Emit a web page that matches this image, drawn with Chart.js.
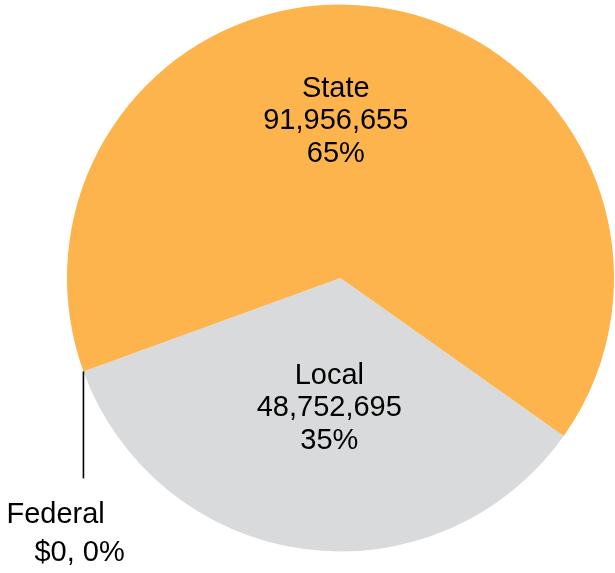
<!DOCTYPE html>
<html>
<head>
<meta charset="utf-8">
<script src="https://cdn.jsdelivr.net/npm/chart.js@4"></script>
<style>
  html, body { margin: 0; padding: 0; background: #fff; }
  canvas { display: block; }
</style>
</head>
<body>
<canvas id="fundingPie" width="615" height="573"></canvas>
<script>
// Funding sources, in drawing order (clockwise)
const categories = ['Local', 'Federal', 'State'];
const amounts = [48752695, 0, 91956655];
const percentLabels = ['35%', '0%', '65%'];
const sliceColors = ['#D9DADB', '#D9DADB', '#FDB44D'];

const FONT = '29px "Liberation Sans", Arial, sans-serif';

function fmt(n) {
  return n.toLocaleString('en-US');
}

// Draws the stacked labels inside the big slices and the leader-line label for Federal
const sliceLabels = {
  id: 'sliceLabels',
  afterDatasetsDraw(chart) {
    const ctx = chart.ctx;
    const arcs = chart.getDatasetMeta(0).data;
    ctx.save();
    ctx.font = FONT;
    ctx.fillStyle = '#000';
    ctx.textAlign = 'center';
    ctx.textBaseline = 'alphabetic';

    const lineH = 32.5;
    // label anchors: angle (deg, canvas) and fraction of radius from the centre
    const anchors = { State: [268.3, 0.58], Local: [95, 0.47] };

    arcs.forEach((arc, i) => {
      const name = categories[i];
      if (amounts[i] === 0) {
        // zero slice: leader line down from the rim
        const px = arc.x + arc.outerRadius * Math.cos(arc.startAngle);
        const py = arc.y + arc.outerRadius * Math.sin(arc.startAngle);
        ctx.strokeStyle = '#000';
        ctx.lineWidth = 1.6;
        ctx.beginPath();
        ctx.moveTo(px, py);
        ctx.lineTo(px, py + 107);
        ctx.stroke();
        ctx.textAlign = 'left';
        ctx.fillText(name, px - 77, py + 152);
        ctx.fillText('$' + fmt(amounts[i]) + ', ' + percentLabels[i], px - 49, py + 189.5);
        ctx.textAlign = 'center';
        return;
      }
      const a = anchors[name][0] * Math.PI / 180;
      const r = anchors[name][1] * arc.outerRadius;
      const cx = arc.x + r * Math.cos(a);
      const cy = arc.y + r * Math.sin(a) + 10;
      ctx.fillText(name, cx, cy - lineH);
      ctx.fillText(fmt(amounts[i]), cx, cy);
      ctx.fillText(percentLabels[i], cx, cy + lineH);
    });
    ctx.restore();
  }
};

const ctx = document.getElementById('fundingPie').getContext('2d');
new Chart(ctx, {
  type: 'pie',
  data: {
    labels: categories,
    datasets: [{
      data: amounts,
      backgroundColor: sliceColors,
      borderWidth: 0
    }]
  },
  options: {
    responsive: false,
    animation: false,
    rotation: 125.3,
    layout: {
      padding: { left: 67, right: 1, top: 4.5, bottom: 21.5 }
    },
    plugins: {
      legend: { display: false },
      tooltip: { enabled: false }
    }
  },
  plugins: [sliceLabels]
});
</script>
</body>
</html>
